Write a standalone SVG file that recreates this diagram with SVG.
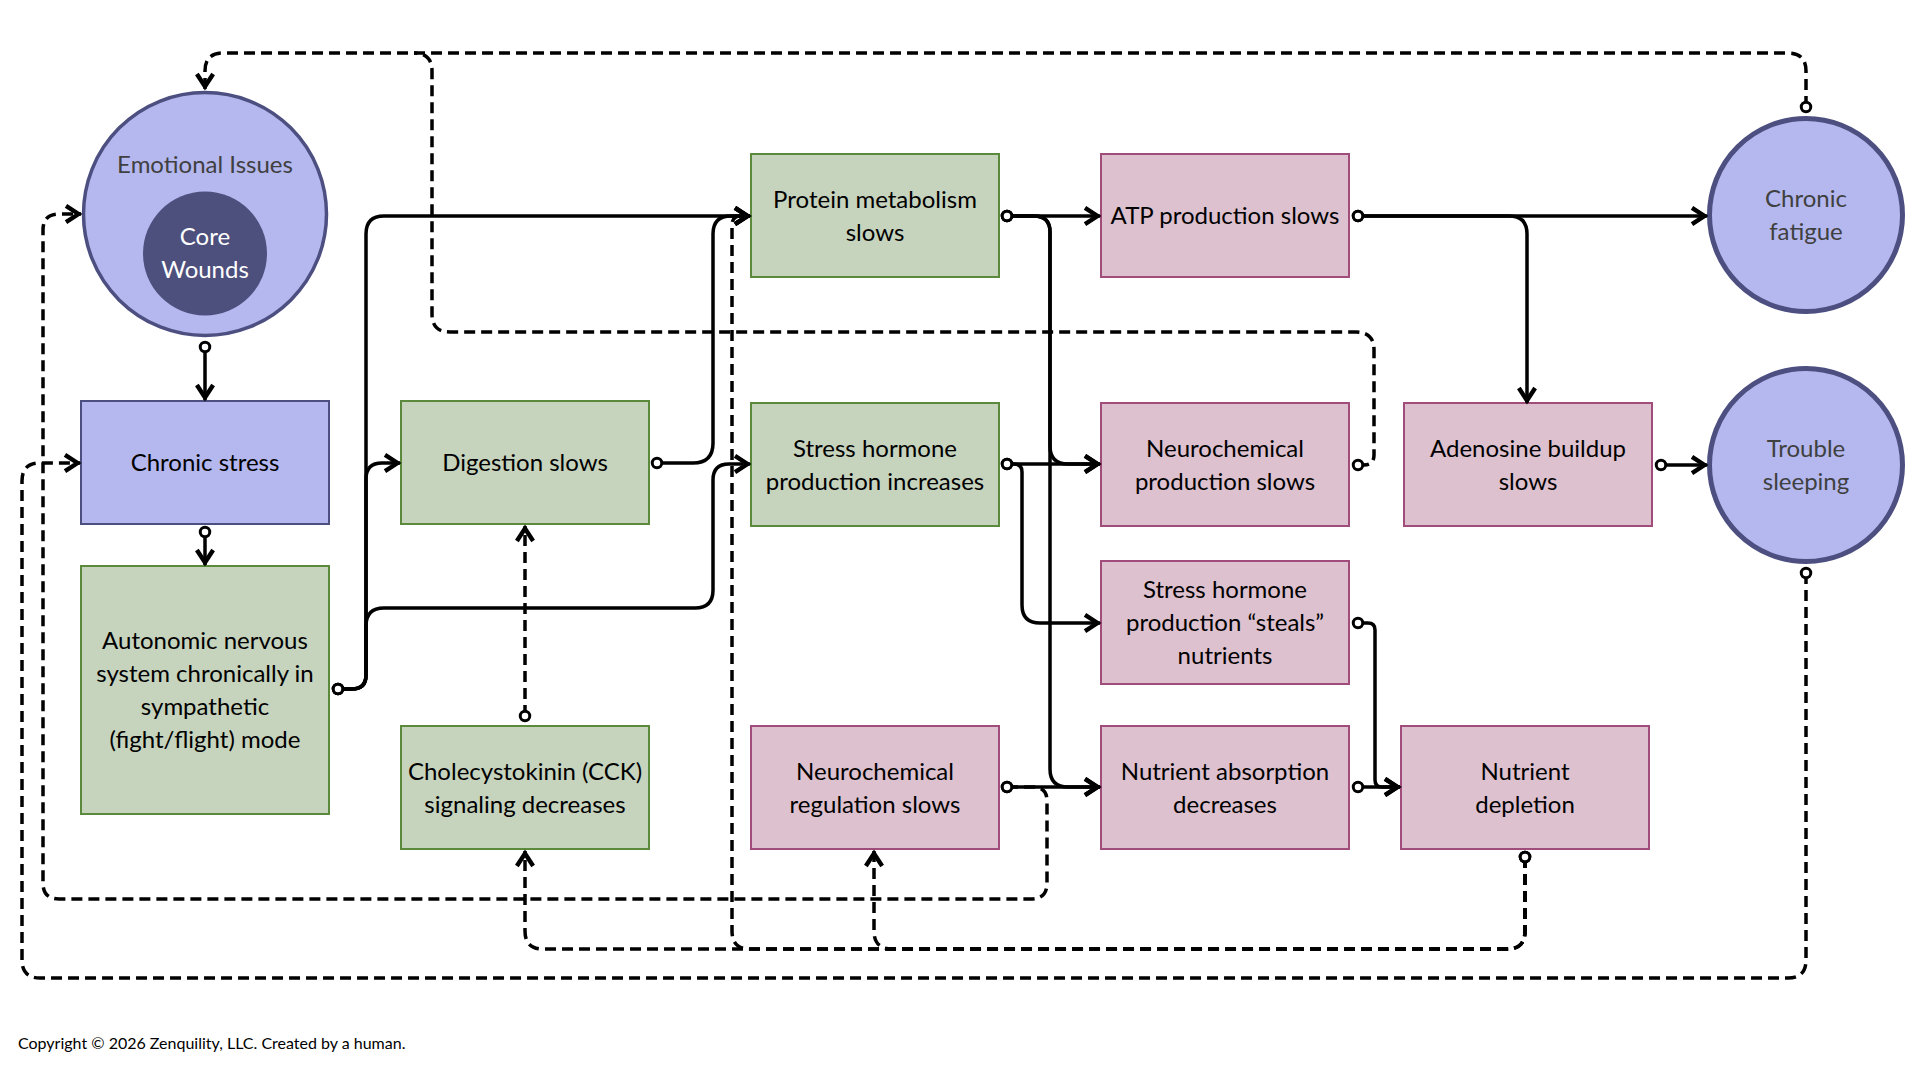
<svg xmlns="http://www.w3.org/2000/svg" width="1920" height="1080" viewBox="0 0 1920 1080">
<style>
.t{font-family:Lato,"Liberation Sans",sans-serif;font-size:24px;fill:#000;text-anchor:middle}
.tc{font-family:Lato,"Liberation Sans",sans-serif;font-size:24px;fill:#404040;text-anchor:middle}
.tw{font-family:Lato,"Liberation Sans",sans-serif;font-size:24px;fill:#fff;text-anchor:middle}
.blue{fill:#b4b8ef;stroke:#4c4f80;stroke-width:2}
.green{fill:#c6d3bd;stroke:#5b8a3c;stroke-width:2}
.pink{fill:#ddc1ce;stroke:#a04d7b;stroke-width:2}
.circ{fill:#b4b8ef;stroke:#4c4f80;stroke-width:5}
.s{fill:none;stroke:#000;stroke-width:3.5;marker-start:url(#port);marker-end:url(#arr)}
.d{fill:none;stroke:#000;stroke-width:3.5;stroke-dasharray:11 6;marker-start:url(#port);marker-end:url(#arr)}
.dj{fill:none;stroke:#000;stroke-width:3.5;stroke-dasharray:11 6;marker-start:url(#port)}
</style>
<defs>
<marker id="arr" markerUnits="userSpaceOnUse" markerWidth="20" markerHeight="20" viewBox="-14 -8 16 16" refX="0" refY="0" orient="auto" overflow="visible">
<polyline points="-12,-6.5 -2,0 -12,6.5" fill="none" stroke="#000" stroke-width="3.5"/>
</marker>
<marker id="port" markerUnits="userSpaceOnUse" markerWidth="16" markerHeight="16" viewBox="-8 -8 16 16" refX="0" refY="0" orient="auto" overflow="visible">
<circle r="4.75" fill="#fff" stroke="#000" stroke-width="3"/>
</marker>
</defs>
<rect width="1920" height="1080" fill="#fff"/>

<g id="emotional-issues">
<circle cx="205" cy="214" r="121.5" fill="#b4b8ef" stroke="#4c4f80" stroke-width="3.5"/>
<text class="tc" x="205" y="173">Emotional Issues</text>
<circle cx="205" cy="253.5" r="62" fill="#4d4f7d"/>
<text class="tw" x="205" y="245">Core</text>
<text class="tw" x="205" y="278">Wounds</text>
</g>
<g id="chronic-stress"><rect class="blue" x="81" y="401" width="248" height="123"/><text class="t" x="205" y="471">Chronic stress</text></g>
<g id="autonomic"><rect class="green" x="81" y="566" width="248" height="248"/>
<text class="t" x="205" y="649">Autonomic nervous</text><text class="t" x="205" y="682">system chronically in</text><text class="t" x="205" y="715">sympathetic</text><text class="t" x="205" y="748">(fight/flight) mode</text></g>
<g id="digestion"><rect class="green" x="401" y="401" width="248" height="123"/><text class="t" x="525" y="471">Digestion slows</text></g>
<g id="cck"><rect class="green" x="401" y="726" width="248" height="123"/><text class="t" x="525" y="780">Cholecystokinin (CCK)</text><text class="t" x="525" y="813">signaling decreases</text></g>
<g id="protein"><rect class="green" x="751" y="154" width="248" height="123"/><text class="t" x="875" y="208">Protein metabolism</text><text class="t" x="875" y="241">slows</text></g>
<g id="stress-hormone-inc"><rect class="green" x="751" y="403" width="248" height="123"/><text class="t" x="875" y="457">Stress hormone</text><text class="t" x="875" y="490">production increases</text></g>
<g id="neuro-reg"><rect class="pink" x="751" y="726" width="248" height="123"/><text class="t" x="875" y="780">Neurochemical</text><text class="t" x="875" y="813">regulation slows</text></g>
<g id="atp"><rect class="pink" x="1101" y="154" width="248" height="123"/><text class="t" x="1225" y="224">ATP production slows</text></g>
<g id="neuro-prod"><rect class="pink" x="1101" y="403" width="248" height="123"/><text class="t" x="1225" y="457">Neurochemical</text><text class="t" x="1225" y="490">production slows</text></g>
<g id="steals"><rect class="pink" x="1101" y="561" width="248" height="123"/><text class="t" x="1225" y="598">Stress hormone</text><text class="t" x="1225" y="631">production “steals”</text><text class="t" x="1225" y="664">nutrients</text></g>
<g id="absorption"><rect class="pink" x="1101" y="726" width="248" height="123"/><text class="t" x="1225" y="780">Nutrient absorption</text><text class="t" x="1225" y="813">decreases</text></g>
<g id="adenosine"><rect class="pink" x="1404" y="403" width="248" height="123"/><text class="t" x="1528" y="457">Adenosine buildup</text><text class="t" x="1528" y="490">slows</text></g>
<g id="depletion"><rect class="pink" x="1401" y="726" width="248" height="123"/><text class="t" x="1525" y="780">Nutrient</text><text class="t" x="1525" y="813">depletion</text></g>
<g id="chronic-fatigue"><circle class="circ" cx="1806" cy="215" r="96.5"/><text class="tc" x="1806" y="207">Chronic</text><text class="tc" x="1806" y="240">fatigue</text></g>
<g id="trouble-sleeping"><circle class="circ" cx="1806" cy="465" r="96.5"/><text class="tc" x="1806" y="457">Trouble</text><text class="tc" x="1806" y="490">sleeping</text></g>

<g id="connectors">
<path class="s" d="M205 347 V400"/>
<path class="s" d="M205 532 V565"/>
<path class="s" d="M338 689 H352 Q366 689 366 675 V479 Q366 463 382 463 H400"/>
<path class="s" d="M338 689 H352 Q366 689 366 675 V234 Q366 216 384 216 H750"/>
<path class="s" d="M338 689 H352 Q366 689 366 675 V626 Q366 608 384 608 H695 Q713 608 713 590 V480 Q713 464 729 464 H750"/>
<path class="s" d="M657 463 H693 Q713 463 713 443 V234 Q713 216 731 216 H750"/>
<path class="d" d="M525 716 V526"/>
<path class="s" d="M1007 216 H1100"/>
<path class="s" d="M1007 216 H1034 Q1050 216 1050 232 V446 Q1050 464 1068 464 H1100"/>
<path class="s" d="M1007 216 H1034 Q1050 216 1050 232 V769 Q1050 787 1068 787 H1100"/>
<path class="s" d="M1007 464 H1100"/>
<path class="s" d="M1007 464 H1014 Q1022 464 1022 472 V605 Q1022 623 1040 623 H1100"/>
<path class="s" d="M1007 787 H1100"/>
<path class="d" d="M1007 787 H1033 Q1047 787 1047 801 V883 Q1047 899 1031 899 H59 Q43 899 43 883 V230 Q43 214 59 214 H81"/>
<path class="dj" d="M1358 465 H1364 Q1374 465 1374 455 V350 Q1374 332 1356 332 H450 Q432 332 432 314 V71 Q432 53 414 53"/>
<path class="s" d="M1358 623 H1368 Q1375 623 1375 630 V780 Q1375 787 1382 787 H1400"/>
<path class="s" d="M1358 787 H1400"/>
<path class="d" d="M1525 857 V931 Q1525 949 1507 949 H543 Q525 949 525 931 V851"/>
<path class="d" d="M1525 857 V931 Q1525 949 1507 949 H892 Q874 949 874 931 V851"/>
<path class="d" d="M1525 857 V931 Q1525 949 1507 949 H750 Q732 949 732 931 V225 Q732 216 741 216 H750"/>
<path class="s" d="M1358 216 H1707"/>
<path class="s" d="M1358 216 H1509 Q1527 216 1527 234 V403"/>
<path class="s" d="M1661 465 H1707"/>
<path class="d" d="M1806 107 V71 Q1806 53 1788 53 H223 Q205 53 205 71 V89"/>
<path class="d" d="M1806 573 V960 Q1806 978 1788 978 H40 Q22 978 22 960 V481 Q22 463 40 463 H80"/>
</g>

<text x="18" y="1049" font-family="Lato,'Liberation Sans',sans-serif" font-size="16" fill="#000">Copyright © 2026 Zenquility, LLC. Created by a human.</text>
</svg>
